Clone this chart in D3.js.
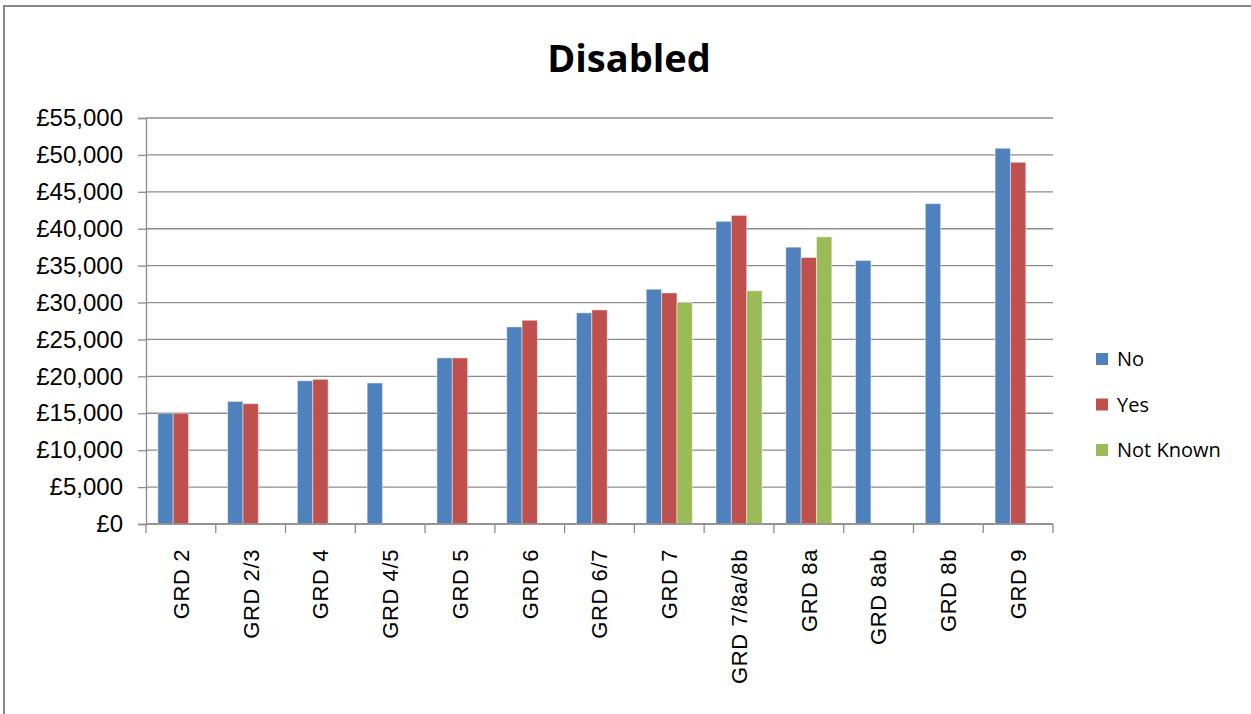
<!DOCTYPE html>
<html>
<head>
<meta charset="utf-8">
<script src="https://cdn.jsdelivr.net/npm/d3@7"></script>
<style>
  body { margin: 0; background: #fff; }
  svg { display: block; }
</style>
</head>
<body>
<div id="chart"></div>
<script>
// Categories (grades) and the three series
const grades = ["GRD 2", "GRD 2/3", "GRD 4", "GRD 4/5", "GRD 5", "GRD 6", "GRD 6/7",
    "GRD 7", "GRD 7/8a/8b", "GRD 8a", "GRD 8ab", "GRD 8b", "GRD 9"];
const seriesNames = ["No", "Yes", "Not Known"];
const noValues =       [15000, 16600, 19400, 19100, 22500, 26700, 28600, 31800, 41000, 37500, 35700, 43400, 50900];
const yesValues =      [15000, 16300, 19600, null,  22500, 27600, 29000, 31300, 41800, 36100, null,  null,  49000];
const notKnownValues = [null,  null,  null,  null,  null,  null,  null,  30000, 31600, 38900, null,  null,  null];
const yTicks = [0, 5000, 10000, 15000, 20000, 25000, 30000, 35000, 40000, 45000, 50000, 55000];
const colors = ["#4F81BD", "#C0504D", "#9BBB59"];

const W = 1251, H = 714;
const margin = { top: 118, left: 146, right: 198, bottom: 190 };
const plotW = W - margin.left - margin.right;
const plotH = H - margin.top - margin.bottom;

// table built from the arrays above
const table = grades.map((g, i) => ({
    grade: g,
    values: [noValues[i], yesValues[i], notKnownValues[i]]
}));

const svg = d3.select("#chart").append("svg")
    .attr("width", W)
    .attr("height", H);

// outer frame (only top and left edges are in the picture)
svg.append("path")
    .attr("d", `M4,${H} V6 H${W}`)
    .attr("fill", "none")
    .attr("stroke", "#888")
    .attr("stroke-width", 2);

const g = svg.append("g")
    .attr("transform", `translate(${margin.left},${margin.top})`);

const x0 = d3.scaleBand()
    .domain(grades)
    .range([0, plotW])
    .paddingInner(0.34)
    .paddingOuter(0.17);

const x1 = d3.scaleBand()
    .domain(seriesNames)
    .range([0, x0.bandwidth()]);

const y = d3.scaleLinear()
    .domain([0, 55000])
    .range([plotH, 0]);

// gridlines
g.append("g")
    .selectAll("line")
    .data(yTicks)
    .enter()
    .append("line")
    .attr("x1", 0)
    .attr("x2", plotW)
    .attr("y1", d => y(d))
    .attr("y2", d => y(d))
    .attr("stroke", "#8c8c8c")
    .attr("stroke-width", 1.3);

// bars
const groups = g.selectAll(".grp")
    .data(table)
    .enter()
    .append("g")
    .attr("class", "grp")
    .attr("transform", d => `translate(${x0(d.grade)},0)`);

groups.selectAll("rect")
    .data(d => d.values.map((v, i) => ({ key: seriesNames[i], value: v, i: i })).filter(e => e.value !== null))
    .enter()
    .append("rect")
    .attr("x", d => x1(d.key))
    .attr("y", d => y(d.value))
    .attr("width", x1.bandwidth())
    .attr("height", d => plotH - y(d.value))
    .attr("fill", d => colors[d.i])
    .attr("stroke", "rgba(255,255,255,0.45)")
    .attr("stroke-width", 1);

// y axis
const yAxis = g.append("g")
    .call(d3.axisLeft(y)
        .tickValues(yTicks)
        .tickSize(8)
        .tickPadding(15)
        .tickFormat(d => "£" + d3.format(",")(d)));
yAxis.selectAll("path, line").attr("stroke", "#8c8c8c").attr("stroke-width", 1.3);
yAxis.selectAll("text")
    .attr("font-family", "Liberation Sans, Arial, sans-serif")
    .attr("font-size", "24px")
    .attr("fill", "#000");

// x axis: ticks at category boundaries
const xAxis = g.append("g")
    .attr("transform", `translate(0,${plotH})`);
xAxis.append("line")
    .attr("x1", 0).attr("x2", plotW)
    .attr("stroke", "#8c8c8c").attr("stroke-width", 1.3);
xAxis.selectAll(".tick")
    .data(d3.range(grades.length + 1))
    .enter()
    .append("line")
    .attr("x1", i => i * x0.step())
    .attr("x2", i => i * x0.step())
    .attr("y1", 0)
    .attr("y2", 9)
    .attr("stroke", "#8c8c8c")
    .attr("stroke-width", 1.3);
xAxis.selectAll("text")
    .data(grades)
    .enter()
    .append("text")
    .attr("transform", d => `translate(${x0(d) + x0.bandwidth() / 2},25) rotate(-90)`)
    .attr("text-anchor", "end")
    .attr("dy", "0.36em")
    .attr("font-family", "Liberation Sans, Arial, sans-serif")
    .attr("font-size", "22px")
    .attr("letter-spacing", "0.6px")
    .attr("fill", "#000")
    .text(d => d);

// title
svg.append("text")
    .attr("x", 629)
    .attr("y", 72)
    .attr("text-anchor", "middle")
    .attr("font-family", "Open Sans, sans-serif")
    .attr("font-weight", "bold")
    .attr("font-size", "38px")
    .text("Disabled");

// legend
const legend = svg.append("g")
    .attr("transform", "translate(1096,359)");
const item = legend.selectAll("g")
    .data(seriesNames)
    .enter()
    .append("g")
    .attr("transform", (d, i) => `translate(0,${i * 45.5})`);
item.append("rect")
    .attr("x", 0)
    .attr("y", -6)
    .attr("width", 12)
    .attr("height", 12)
    .attr("fill", (d, i) => colors[i]);
item.append("text")
    .attr("x", 21)
    .attr("dy", "0.36em")
    .attr("font-family", "Open Sans, sans-serif")
    .attr("font-size", "20px")
    .attr("fill", "#000")
    .text(d => d);
</script>
</body>
</html>
